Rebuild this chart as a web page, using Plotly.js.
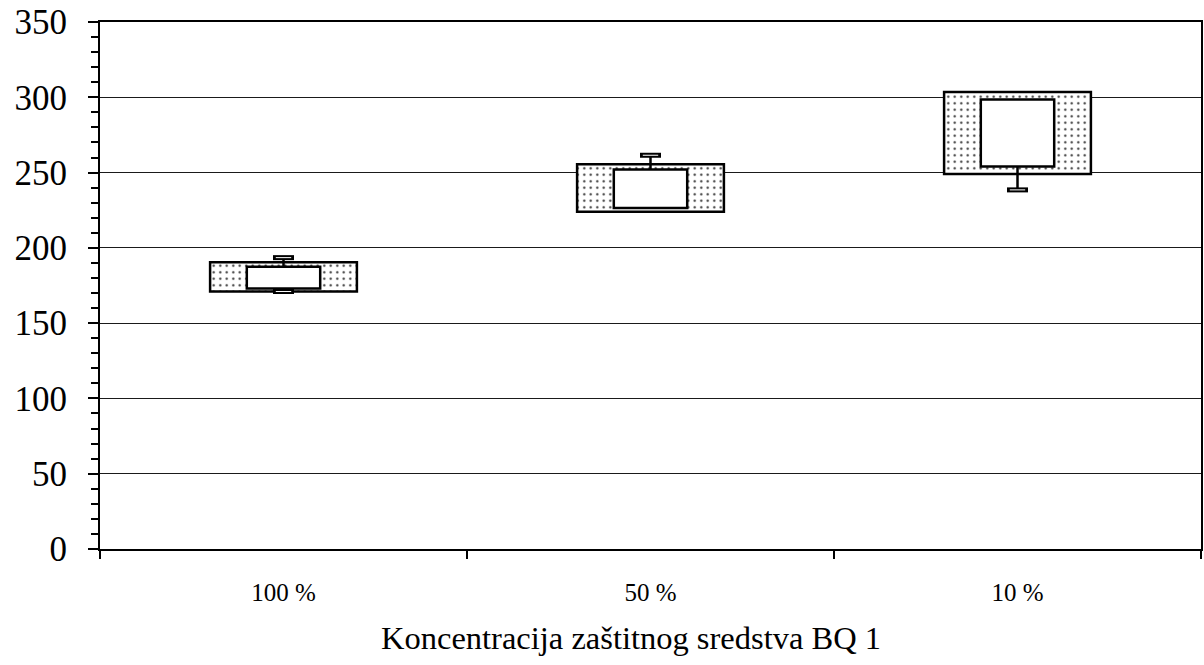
<!DOCTYPE html>
<html>
<head>
<meta charset="utf-8">
<script src="https://cdn.plot.ly/plotly-3.0.1.min.js"></script>
<style>html,body{margin:0;padding:0;background:#fff;}#chart{width:1204px;height:665px;}</style>
</head>
<body>
<div id="chart"></div>
<script>
const categories = ['100 %', '50 %', '10 %'];
const outerLow  = [171, 224, 249];
const outerHigh = [190.5, 255.5, 303.5];
const innerLow  = [173, 226.5, 254];
const innerHigh = [187.5, 252, 298.5];
const whiskerMax = [193.5, 261.5, null];
const whiskerMin = [171, null, 238.5];
const xTitle = 'Koncentracija zaštitnog sredstva BQ 1';

const font = '"Liberation Serif", "Times New Roman", serif';

// whisker stems
const stemX = [], stemY = [], capX = [], capY = [];
categories.forEach((c, i) => {
  if (whiskerMax[i] !== null) {
    stemX.push(c, c, null); stemY.push(innerHigh[i], whiskerMax[i], null);
    capX.push(c); capY.push(whiskerMax[i]);
  }
  if (whiskerMin[i] !== null) {
    stemX.push(c, c, null); stemY.push(innerLow[i], whiskerMin[i], null);
    capX.push(c); capY.push(whiskerMin[i]);
  }
});

const traces = [
  {
    type: 'bar', x: categories,
    y: outerHigh.map((h, i) => h - outerLow[i]), base: outerLow,
    width: 0.4,
    marker: {
      color: '#ffffff',
      pattern: {shape: '.', fgcolor: '#333333', bgcolor: '#ffffff', size: 6.5, solidity: 0.1},
      line: {color: '#000000', width: 2.5}
    },
    hoverinfo: 'skip', showlegend: false
  },
  {
    type: 'bar', x: categories,
    y: innerHigh.map((h, i) => h - innerLow[i]), base: innerLow,
    width: 0.2,
    marker: {color: '#ffffff', line: {color: '#000000', width: 2.5}},
    hoverinfo: 'skip', showlegend: false
  },
  {
    type: 'scatter', mode: 'lines', x: stemX, y: stemY,
    line: {color: '#000000', width: 2.5}, connectgaps: false,
    hoverinfo: 'skip', showlegend: false
  },
  {
    type: 'scatter', mode: 'markers', x: capX, y: capY,
    marker: {symbol: 'line-ew', size: 15, line: {color: '#000000', width: 5}},
    hoverinfo: 'skip', showlegend: false
  },
  {
    type: 'scatter', mode: 'markers', x: capX, y: capY,
    marker: {symbol: 'line-ew', size: 11, line: {color: '#ffffff', width: 1}},
    hoverinfo: 'skip', showlegend: false
  }
];

const layout = {
  width: 1204, height: 665,
  margin: {l: 100, r: 3, t: 22, b: 116},
  paper_bgcolor: '#ffffff', plot_bgcolor: '#ffffff',
  barmode: 'overlay',
  showlegend: false,
  xaxis: {
    type: 'category', range: [-0.5, 2.5],
    tickson: 'boundaries', ticks: 'outside', ticklen: 8, tickwidth: 2, tickcolor: '#000',
    showline: true, linecolor: '#000', linewidth: 2, mirror: true,
    showgrid: false, zeroline: false,
    tickfont: {family: font, size: 25, color: '#000'},
    ticklabelstandoff: 20,
    automargin: false
  },
  xaxis2: {
    overlaying: 'x', anchor: 'y', range: [-0.5, 2.5], type: 'linear',
    tickvals: [-0.5, 0.5, 1.5, 2.5], ticks: 'inside', ticklen: 8, tickwidth: 2, tickcolor: '#000',
    showticklabels: false, showgrid: false, zeroline: false, showline: false, side: 'bottom'
  },
  yaxis: {
    range: [0, 350], dtick: 50, tick0: 0,
    ticks: 'outside', ticklen: 10, tickwidth: 2, tickcolor: '#000',
    minor: {dtick: 10, ticks: 'outside', ticklen: 7, tickwidth: 2, tickcolor: '#000', showgrid: false},
    showline: true, linecolor: '#000', linewidth: 2, mirror: true,
    showgrid: true, gridcolor: '#1a1a1a', gridwidth: 1,
    zeroline: false,
    tickfont: {family: font, size: 35, color: '#000'},
    ticklabelstandoff: 14,
    automargin: false
  },
  yaxis2: {
    overlaying: 'y', anchor: 'x', range: [0, 350], type: 'linear',
    tickvals: [0, 50, 100, 150, 200, 250, 300, 350], ticks: 'inside', ticklen: 10, tickwidth: 2, tickcolor: '#000',
    showticklabels: false, showgrid: false, zeroline: false, showline: false, side: 'left'
  },
  annotations: [{
    text: xTitle, xref: 'paper', yref: 'paper', x: 0.482, y: -0.169,
    xanchor: 'center', yanchor: 'middle', showarrow: false,
    font: {family: font, size: 32.5, color: '#000'}
  }]
};

Plotly.newPlot('chart', traces, layout, {staticPlot: true, displayModeBar: false});
</script>
</body>
</html>
